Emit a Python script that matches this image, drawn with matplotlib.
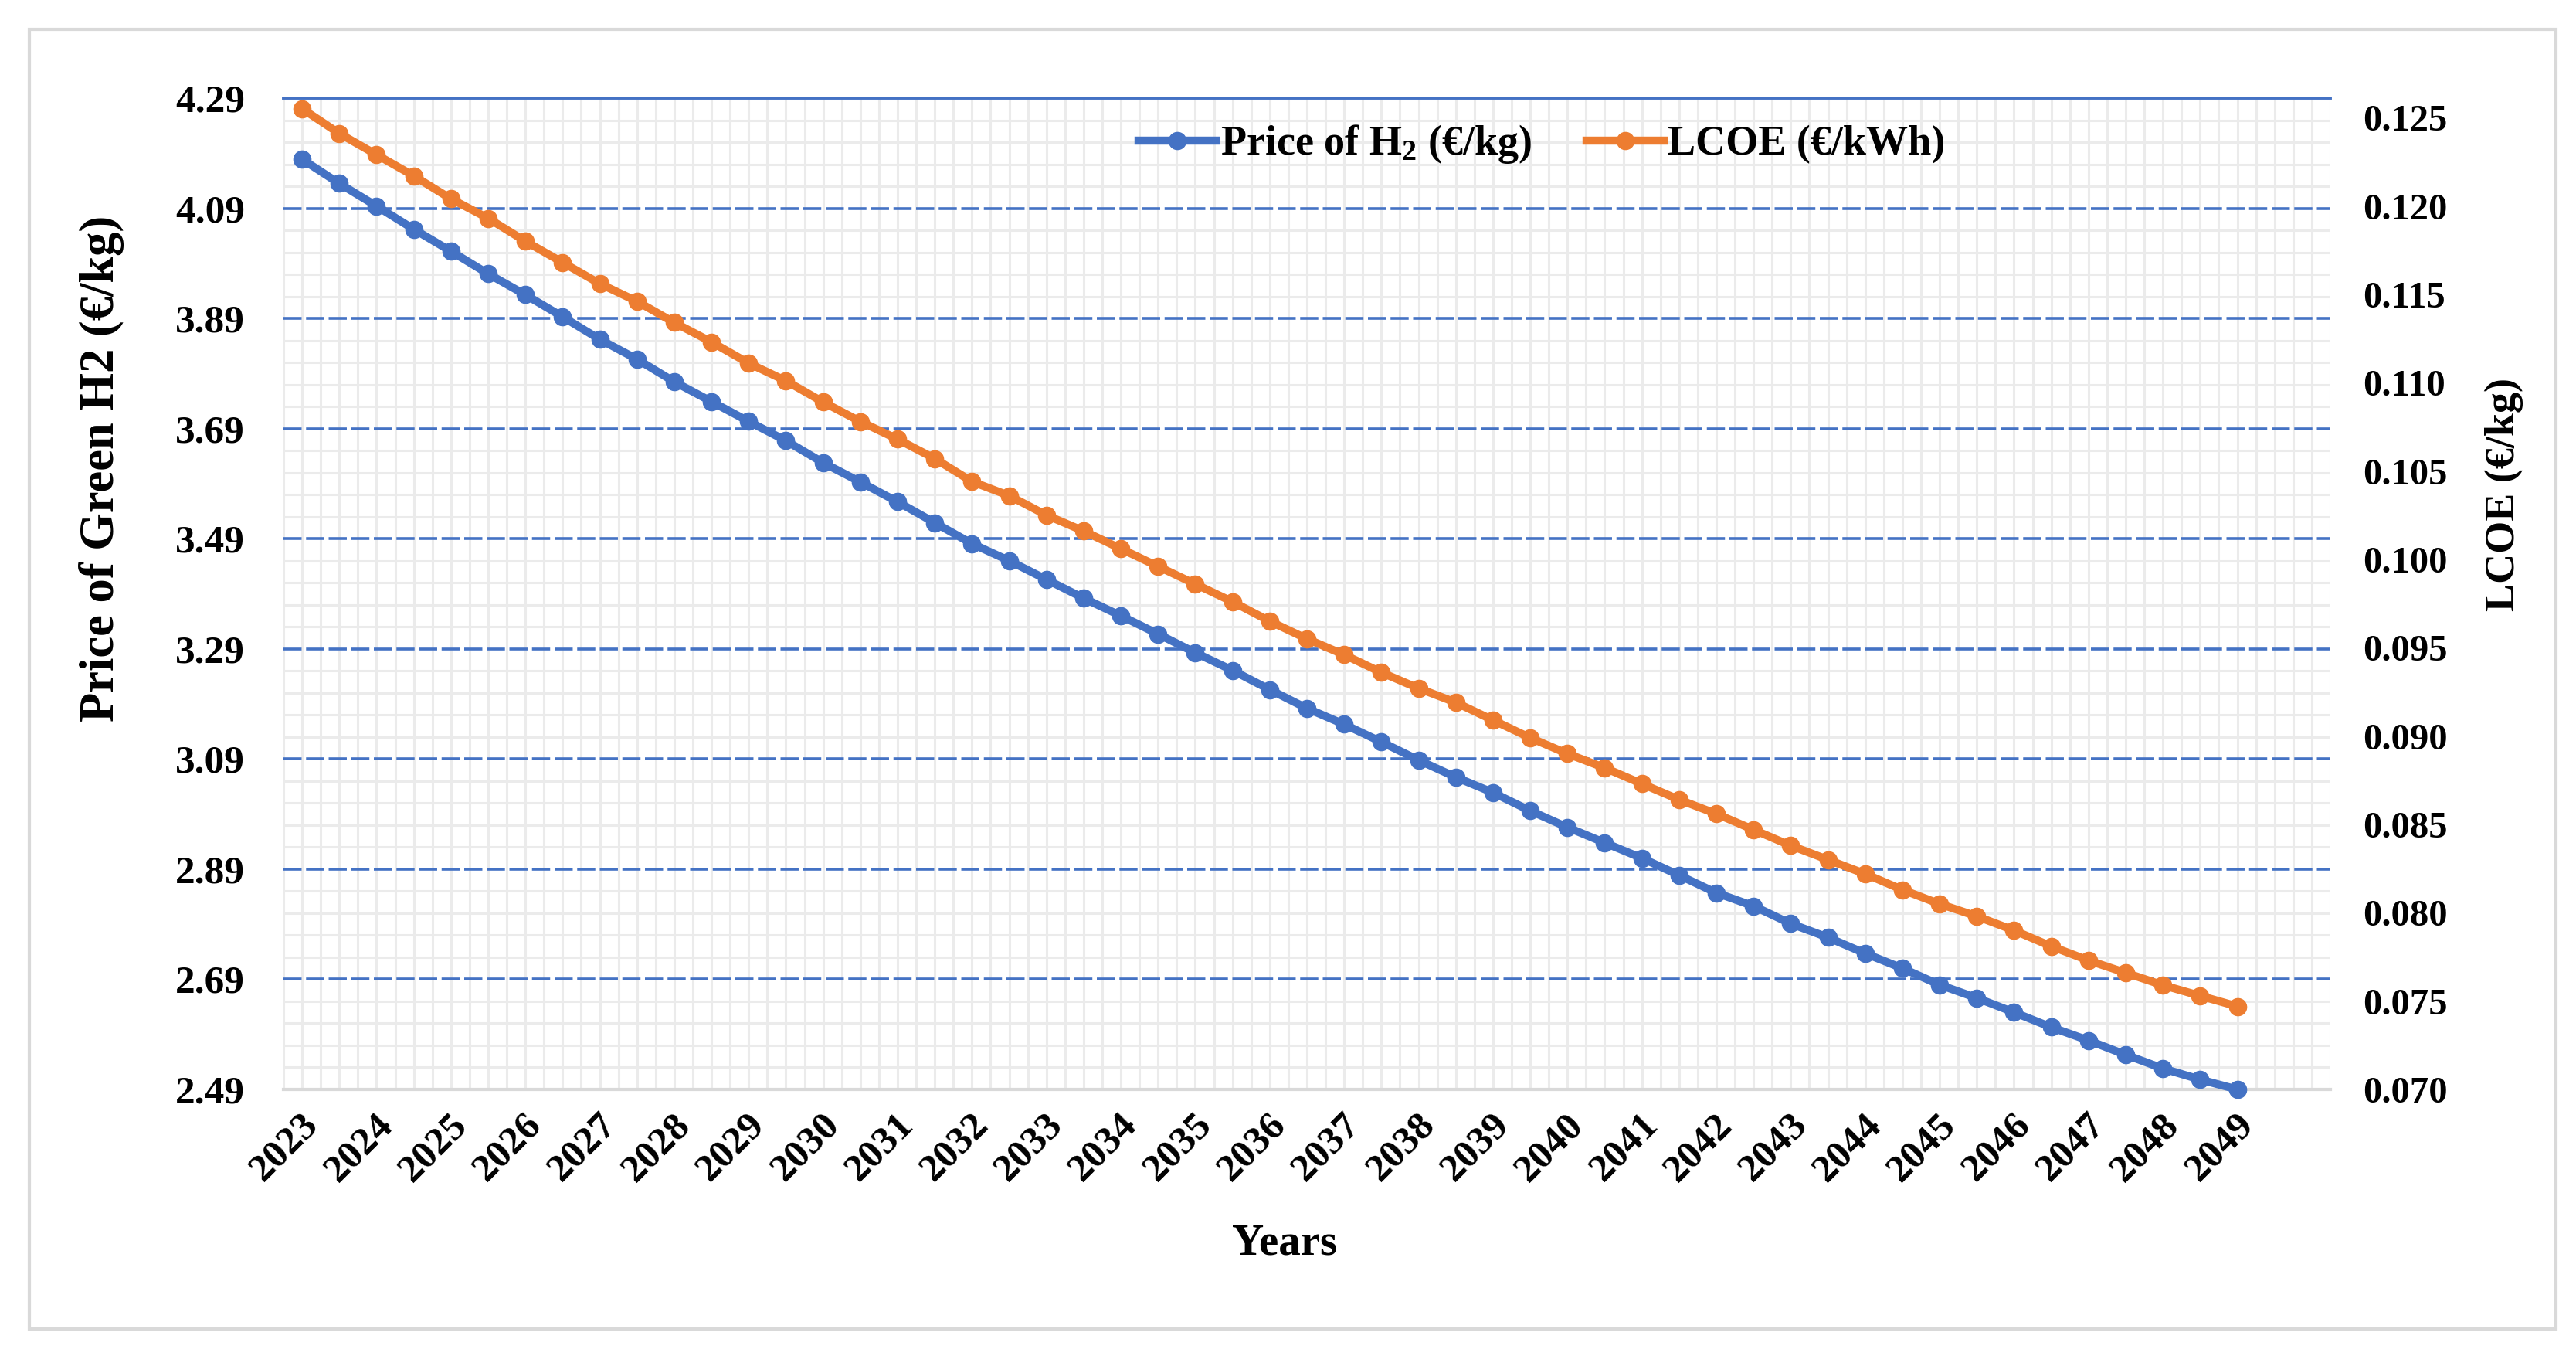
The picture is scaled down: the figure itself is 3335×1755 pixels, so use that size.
import matplotlib
matplotlib.use("Agg")
import matplotlib.pyplot as plt
import matplotlib.transforms as mtransforms
from matplotlib.patches import Rectangle
import numpy as np

# ---------------- data ----------------
year_labels = ["2023", "2024", "2025", "2026", "2027", "2028", "2029", "2030",
               "2031", "2032", "2033", "2034", "2035", "2036", "2037", "2038",
               "2039", "2040", "2041", "2042", "2043", "2044", "2045", "2046",
               "2047", "2048", "2049"]

# half-year steps from 2023 to 2049
h2_price = [4.179, 4.135, 4.094, 4.052, 4.012, 3.971, 3.933, 3.893, 3.852,
            3.816, 3.775, 3.739, 3.703, 3.668, 3.628, 3.593, 3.557, 3.519,
            3.481, 3.450, 3.416, 3.382, 3.350, 3.317, 3.283, 3.251, 3.216,
            3.182, 3.153, 3.121, 3.088, 3.057, 3.029, 2.996, 2.966, 2.938,
            2.910, 2.879, 2.847, 2.823, 2.791, 2.766, 2.737, 2.710, 2.680,
            2.656, 2.630, 2.603, 2.579, 2.553, 2.528, 2.508, 2.490]

lcoe = [0.1255, 0.1241, 0.1229, 0.1217, 0.1204, 0.1193, 0.1180, 0.1168, 0.1156,
        0.1146, 0.1134, 0.1123, 0.1111, 0.1101, 0.1089, 0.1078, 0.1068, 0.1057,
        0.1044, 0.1036, 0.1025, 0.1016, 0.1006, 0.0996, 0.0986, 0.0976, 0.0965,
        0.0955, 0.0946, 0.0936, 0.0927, 0.0919, 0.0909, 0.0899, 0.0890, 0.0882,
        0.0873, 0.0864, 0.0856, 0.0847, 0.0838, 0.0830, 0.0822, 0.0813, 0.0805,
        0.0798, 0.0790, 0.0781, 0.0773, 0.0766, 0.0759, 0.0753, 0.0747]

left_ticks = [2.49, 2.69, 2.89, 3.09, 3.29, 3.49, 3.69, 3.89, 4.09, 4.29]
right_ticks = [0.070, 0.075, 0.080, 0.085, 0.090, 0.095, 0.100, 0.105,
               0.110, 0.115, 0.120, 0.125]

label_h2 = "Price of H$_{2}$ (€/kg)"
label_lcoe = "LCOE (€/kWh)"
ylabel_left = "Price of Green H2 (€/kg)"
ylabel_right = "LCOE (€/kg)"
xlabel = "Years"

# ---------------- style ----------------
plt.rcParams["font.family"] = ["Liberation Serif", "DejaVu Serif"]
plt.rcParams["font.weight"] = "bold"
plt.rcParams["mathtext.fontset"] = "custom"
plt.rcParams["mathtext.rm"] = "Liberation Serif:bold"
plt.rcParams["mathtext.it"] = "Liberation Serif:bold"
plt.rcParams["mathtext.bf"] = "Liberation Serif:bold"

BLUE = "#4472C4"
ORANGE = "#ED7D31"
GRID_MINOR = "#ebebeb"
AXIS_GRAY = "#d9d9d9"

W, H = 3335, 1755
DPI = 100
fig = plt.figure(figsize=(W / DPI, H / DPI), dpi=DPI)
fig.patch.set_facecolor("white")

# outer frame
fig.patches.append(Rectangle((38 / W, 1 - 1720 / H), (3309 - 38) / W, (1720 - 38) / H,
                             transform=fig.transFigure, fill=False,
                             edgecolor=AXIS_GRAY, linewidth=3.0, zorder=0))

left, right, top, bottom = 367 / W, 3017 / W, 1 - 127 / H, 1 - 1410 / H
ax = fig.add_axes([left, bottom, right - left, top - bottom])
ax2 = ax.twinx()

x = np.arange(len(h2_price))
ax.set_xlim(-0.5, 54.5)
ax.set_ylim(left_ticks[0], left_ticks[-1])
ax2.set_ylim(0.070, 0.1261)

# vertical minor grid (every half category)
for gx in np.arange(-0.5, 54.51, 0.5):
    ax.axvline(gx, color=GRID_MINOR, linewidth=2.2, zorder=0.5)
# horizontal minor grid
for i in range(len(left_ticks) - 1):
    for k in range(1, 5):
        ax.axhline(left_ticks[i] + k * 0.04, color=GRID_MINOR, linewidth=2.2, zorder=0.6)
# major dashed grid
for gy in left_ticks[1:-1]:
    ax.axhline(gy, color=BLUE, linewidth=2.6, linestyle=(0, (6.5, 1.6)), zorder=0.8)
ax.axhline(left_ticks[-1], color=BLUE, linewidth=2.8, zorder=0.8, clip_on=False)

for a in (ax, ax2):
    for s in ("top", "left", "right", "bottom"):
        a.spines[s].set_visible(False)
ax.axhline(left_ticks[0], color=AXIS_GRAY, linewidth=3.0, zorder=0.9, clip_on=False)

ln1, = ax.plot(x, h2_price, color=BLUE, linewidth=7.5, marker="o", markersize=16,
               zorder=3, clip_on=False)
ln2, = ax2.plot(x, lcoe, color=ORANGE, linewidth=7.5, marker="o", markersize=16,
                zorder=3, clip_on=False)

# ticks
ax.set_yticks(left_ticks)
ax.set_yticklabels([f"{v:.2f}" for v in left_ticks])
ax.tick_params(axis="y", length=0, pad=36, labelsize=37)
ax2.set_yticks(right_ticks)
ax2.set_yticklabels([f"{v:.3f}" for v in right_ticks])
ax2.tick_params(axis="y", length=0, pad=30, labelsize=35)

ax.set_xticks(x[::2])
ax.set_xticklabels(year_labels, rotation=45, ha="right", va="center",
                   rotation_mode="anchor")
ax.tick_params(axis="x", length=0, pad=28, labelsize=37)
offset = mtransforms.ScaledTranslation(14 / DPI, 0, fig.dpi_scale_trans)
for lab in ax.get_xticklabels():
    lab.set_transform(lab.get_transform() + offset)

# axis titles
fig.text(132 / W, 1 - 606 / H, ylabel_left, rotation=90, ha="center", va="center",
         fontsize=45, fontweight="bold")
fig.text(3242 / W, 1 - 640 / H, ylabel_right, rotation=90, ha="center", va="center",
         fontsize=39, fontweight="bold")
fig.text(1663 / W, 1 - 1609 / H, xlabel, ha="center", va="center",
         fontsize=41, fontweight="bold")

# legend
leg = fig.legend([ln1, ln2], [label_h2, label_lcoe], loc="center left",
                 bbox_to_anchor=(1474 / W, 1 - 187 / H), ncol=2, frameon=False,
                 fontsize=39, handlelength=1.85, handletextpad=0.1,
                 columnspacing=1.3, borderpad=0, borderaxespad=0)

fig.savefig("out.png", dpi=DPI, facecolor="white")
